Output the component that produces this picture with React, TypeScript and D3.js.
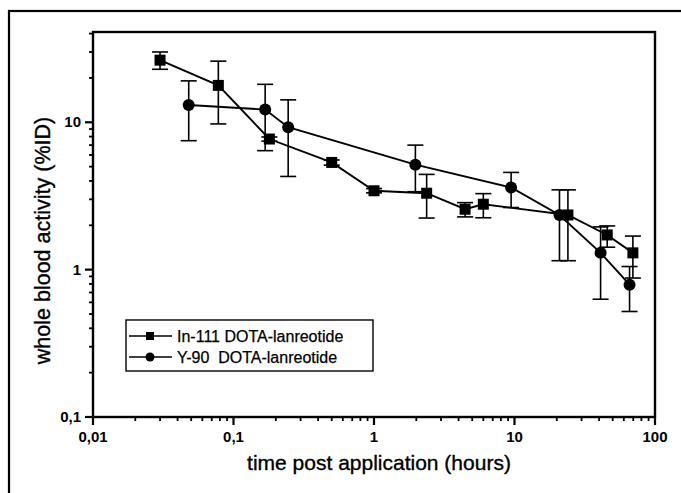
import React from "react";
import * as d3 from "d3";

const inX = [0.03, 0.078, 0.18, 0.5, 1.0, 2.37, 4.45, 6.0, 24, 45.7, 69.6];
const inY = [26.4, 17.8, 7.7, 5.34, 3.43, 3.3, 2.57, 2.78, 2.35, 1.72, 1.3];
const inHi = [30, 26, 7.95, 5.55, 3.55, 4.43, 2.85, 3.28, 3.48, 1.98, 1.69];
const inLo = [22.9, 9.75, 7.45, 5.12, 3.32, 2.24, 2.28, 2.25, 1.15, 1.42, 0.877];

const yX = [0.048, 0.168, 0.245, 1.97, 9.46, 20.9, 41, 65.9];
const yY = [13.1, 12.2, 9.26, 5.16, 3.61, 2.35, 1.3, 0.79];
const yHi = [19.1, 18.1, 14.2, 7.0, 4.57, 3.48, 1.95, 1.05];
const yLo = [7.5, 6.42, 4.29, 3.38, 2.64, 1.15, 0.63, 0.52];

const xTickValues = [0.01, 0.1, 1, 10, 100];
const xTickLabels = ["0,01", "0,1", "1", "10", "100"];
const yTickValues = [0.1, 1, 10];
const yTickLabels = ["0,1", "1", "10"];

const legendLabels = ["In-111 DOTA-lanreotide", "Y-90  DOTA-lanreotide"];
const xTitle = "time post application (hours)";
const yTitle = "whole blood activity (%ID)";

const L = 93, R = 655, T = 32, B = 417;
const FONT = "'Liberation Sans', Arial, sans-serif";

export default function App() {
  const x = d3.scaleLog().domain([0.01, 100]).range([L, R]);
  const y = d3.scaleLog().domain([0.1, 41]).range([B, T]);

  const xMinor: number[] = [];
  [0.01, 0.1, 1, 10].forEach((d) => {
    for (let k = 2; k <= 9; k++) xMinor.push(d * k);
  });
  const yMinor: number[] = [];
  [0.1, 1, 10].forEach((d) => {
    for (let k = 2; k <= 9; k++) if (d * k <= 41) yMinor.push(d * k);
  });

  const line = d3
    .line<[number, number]>()
    .x((d) => x(d[0]))
    .y((d) => y(d[1]));

  const inPts: [number, number][] = inX.map((v, i) => [v, inY[i]]);
  const yPts: [number, number][] = yX.map((v, i) => [v, yY[i]]);

  const capW = 8;
  const errBars = (xs: number[], hi: number[], lo: number[], key: string) =>
    xs.map((v, i) => {
      const cx = x(v);
      return (
        <g key={key + i} stroke="#000" strokeWidth={1.6}>
          <line x1={cx} x2={cx} y1={y(hi[i])} y2={y(lo[i])} />
          <line x1={cx - capW} x2={cx + capW} y1={y(hi[i])} y2={y(hi[i])} />
          <line x1={cx - capW} x2={cx + capW} y1={y(lo[i])} y2={y(lo[i])} />
        </g>
      );
    });

  const heavy = { stroke: "#000", strokeWidth: 0.35 } as const;

  return (
    <svg
      width={681}
      height={493}
      style={{ position: "absolute", left: 0, top: 0, background: "#fff" }}
      fontFamily={FONT}
    >
      <rect x={0} y={0} width={681} height={493} fill="#fff" />
      {/* outer frame */}
      <rect x={9} y={11} width={720} height={540} fill="none" stroke="#000" strokeWidth={2.2} />

      {/* plot frame */}
      <rect x={L} y={T} width={R - L} height={B - T} fill="none" stroke="#000" strokeWidth={2.4} />

      {/* x ticks */}
      {xTickValues.map((v, i) => (
        <g key={"xt" + i}>
          <line x1={x(v)} x2={x(v)} y1={B} y2={B + 8} stroke="#000" strokeWidth={2.2} />
          <text x={x(v)} y={B + 25} textAnchor="middle" fontSize={15} fontWeight="bold">
            {xTickLabels[i]}
          </text>
        </g>
      ))}
      {xMinor.map((v, i) => (
        <line key={"xm" + i} x1={x(v)} x2={x(v)} y1={B} y2={B + 4} stroke="#000" strokeWidth={1.8} />
      ))}

      {/* y ticks */}
      {yTickValues.map((v, i) => (
        <g key={"yt" + i}>
          <line x1={L - 8} x2={L} y1={y(v)} y2={y(v)} stroke="#000" strokeWidth={2.2} />
          <text x={L - 12} y={y(v) + 5} textAnchor="end" fontSize={15} fontWeight="bold">
            {yTickLabels[i]}
          </text>
        </g>
      ))}
      {yMinor.map((v, i) => (
        <line key={"ym" + i} x1={L - 4} x2={L} y1={y(v)} y2={y(v)} stroke="#000" strokeWidth={1.8} />
      ))}

      {/* axis titles */}
      <text x={(L + R) / 2 + 5} y={470} textAnchor="middle" fontSize={21} {...heavy}>
        {xTitle}
      </text>
      <text
        transform={`translate(50, ${(T + B) / 2 + 16}) rotate(-90)`}
        textAnchor="middle"
        fontSize={21.5}
        {...heavy}
      >
        {yTitle}
      </text>

      {/* error bars */}
      {errBars(inX, inHi, inLo, "ie")}
      {errBars(yX, yHi, yLo, "ye")}

      {/* lines */}
      <path d={line(inPts) || ""} fill="none" stroke="#000" strokeWidth={1.9} />
      <path d={line(yPts) || ""} fill="none" stroke="#000" strokeWidth={1.9} />

      {/* markers */}
      {inPts.map((p, i) => (
        <rect key={"im" + i} x={x(p[0]) - 5.5} y={y(p[1]) - 5.5} width={11} height={11} fill="#000" />
      ))}
      {yPts.map((p, i) => (
        <circle key={"ym" + i} cx={x(p[0])} cy={y(p[1])} r={6} fill="#000" />
      ))}

      {/* legend */}
      <rect x={126} y={320} width={247} height={51} fill="#fff" stroke="#000" strokeWidth={1.4} />
      <line x1={129} x2={172} y1={336} y2={336} stroke="#000" strokeWidth={1.3} />
      <rect x={146} y={332} width={8} height={8} fill="#000" />
      <text x={177} y={341.5} fontSize={16} {...heavy} strokeWidth={0.25}>
        {legendLabels[0]}
      </text>
      <line x1={129} x2={172} y1={357} y2={357} stroke="#000" strokeWidth={1.3} />
      <circle cx={150} cy={357} r={4.5} fill="#000" />
      <text x={177} y={362.5} fontSize={16} {...heavy} strokeWidth={0.25} style={{ whiteSpace: "pre" }}>
        {legendLabels[1]}
      </text>
    </svg>
  );
}
